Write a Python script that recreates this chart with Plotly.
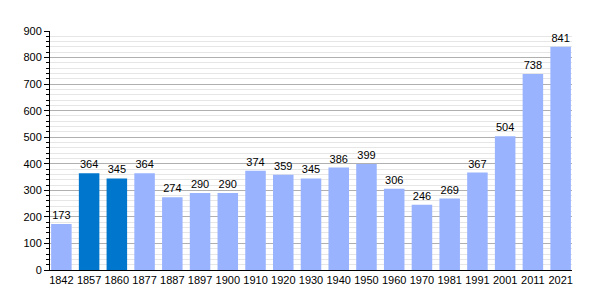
import plotly.graph_objects as go

years = ["1842","1857","1860","1877","1887","1897","1900","1910","1920","1930","1940","1950","1960","1970","1981","1991","2001","2011","2021"]
values = [173,364,345,364,274,290,290,374,359,345,386,399,306,246,269,367,504,738,841]
highlight = ["1857","1860"]
light = "#99b3ff"
dark = "#0077cc"
colors = [dark if y in highlight else light for y in years]

fig = go.Figure(go.Bar(
    x=years, y=values, marker_color=colors, marker_line_width=0,
    text=[str(v) for v in values], textposition="outside",
    textfont=dict(family="Liberation Sans, Arial", size=11, color="#000"),
    cliponaxis=False, width=0.74,
))
fig.update_layout(
    width=600, height=300,
    margin=dict(l=50, r=28, t=31, b=30),
    plot_bgcolor="white", paper_bgcolor="white",
    font=dict(family="Liberation Sans, Arial", size=11, color="#000"),
    showlegend=False,
)
fig.update_xaxes(type="category", range=[-0.41, len(years) - 1 + 0.41],
                 showline=True, linecolor="#000", linewidth=1,
                 ticks="", showgrid=False, tickfont=dict(size=11))
fig.update_yaxes(range=[0, 900], dtick=100, showline=True, linecolor="#000", linewidth=1,
                 ticks="outside", ticklen=5, tickcolor="#000",
                 gridcolor="#b0b0b0", gridwidth=1, zeroline=False,
                 minor=dict(dtick=20, showgrid=True, gridcolor="#e6e6e6", ticks="outside", ticklen=3, tickcolor="#000"),
                 tickfont=dict(size=11))
fig.write_html("out.html")
